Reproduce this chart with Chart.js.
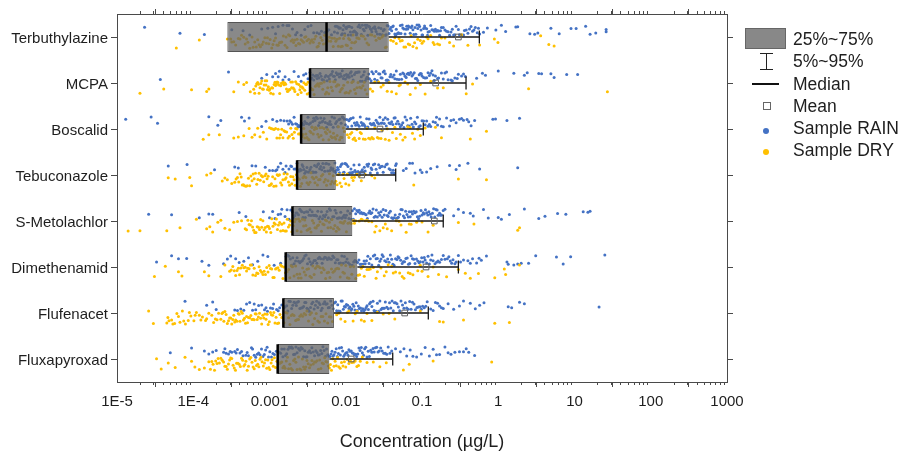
<!DOCTYPE html>
<html>
<head>
<meta charset="utf-8">
<script src="https://cdn.jsdelivr.net/npm/chart.js@4.4.1/dist/chart.umd.min.js"></script>
<style>
  html, body { margin: 0; padding: 0; background: #fff; }
  #wrap { position: relative; width: 902px; height: 453px; font-family: "Liberation Sans", Arial, sans-serif; color: #1e1e1e; }
  canvas { position: absolute; left: 0; top: 0; }
  .lg { position: absolute; }
  .lt { position: absolute; left: 793px; height: 22px; line-height: 22px; font-size: 17.5px; white-space: nowrap; }
</style>
</head>
<body>
<div id="wrap">
  <canvas id="c" width="902" height="453"></canvas>
  <div class="lg" style="left:745px;top:28px;width:39px;height:19px;background:#888;border:1px solid #666;"></div>
  <div class="lt" style="top:28px;">25%~75%</div>
  <div class="lg" style="left:766px;top:53px;width:1px;height:17px;background:#222;"></div>
  <div class="lg" style="left:760px;top:53px;width:13px;height:1px;background:#222;"></div>
  <div class="lg" style="left:760px;top:69px;width:13px;height:1px;background:#222;"></div>
  <div class="lt" style="top:50px;">5%~95%</div>
  <div class="lg" style="left:752px;top:83px;width:27px;height:2px;background:#111;"></div>
  <div class="lt" style="top:73px;">Median</div>
  <div class="lg" style="left:763px;top:102px;width:6px;height:6px;border:1px solid #666;background:#fff;"></div>
  <div class="lt" style="top:95px;">Mean</div>
  <div class="lg" style="left:763px;top:128px;width:6px;height:6px;border-radius:50%;background:#4472C4;"></div>
  <div class="lt" style="top:117px;">Sample RAIN</div>
  <div class="lg" style="left:763px;top:149px;width:6px;height:6px;border-radius:50%;background:#FFC000;"></div>
  <div class="lt" style="top:139px;">Sample DRY</div>
</div>
<script>
// ---------- data ----------
const categories = ['Terbuthylazine','MCPA','Boscalid','Tebuconazole','S-Metolachlor','Dimethenamid','Flufenacet','Fluxapyroxad'];
const q25    = [0.00028, 0.0034, 0.0026, 0.0023, 0.0020, 0.00163, 0.00152, 0.00128];
const median = [0.0056,  0.0034, 0.0026, 0.0023, 0.0020, 0.00163, 0.00152, 0.00128];
const q75    = [0.0366,  0.0204, 0.0100, 0.0074, 0.0122, 0.0142,  0.0070,  0.0061];
const p95    = [0.565,   0.378,  0.104,  0.0452, 0.19,   0.30,    0.121,   0.0413];
const mean   = [0.30,    0.151,  0.0281, 0.0162, 0.145,  0.113,   0.0593,  0.0118];
const tickValues = [1e-5, 1e-4, 1e-3, 1e-2, 1e-1, 1, 10, 100, 1000];
const tickLabels = ['1E-5','1E-4','0.001','0.01','0.1','1','10','100','1000'];

const rainTerb = [2.3e-5,6.7e-5,1.4e-4,3.2e-4,4.5e-4,7.9e-4,1.1e-3,1.3e-3,1.5e-3,1.8e-3,2.0e-3,2.3e-3,2.6e-3,3.2e-3,3.5e-3,4.2e-3,4.8e-3,5.3e-3,6.0e-3,7.1e-3,7.6e-3,8.0e-3,8.5e-3,9.0e-3,9.4e-3,0.0100,0.0105,0.011,0.0115,0.012,0.013,0.0135,0.014,0.015,0.016,0.017,0.018,0.019,0.020,0.021,0.022,0.024,0.025,0.026,0.028,0.030,0.031,0.033,0.035,0.036,0.038,0.040,0.042,0.045,0.047,0.050,0.053,0.056,0.060,0.063,0.066,0.070,0.074,0.078,0.083,0.088,0.093,0.10,0.105,0.11,0.12,0.125,0.13,0.14,0.15,0.16,0.17,0.18,0.19,0.21,0.22,0.24,0.26,0.28,0.30,0.33,0.36,0.40,0.44,0.48,0.53,0.57,0.64,0.72,0.93,1.1,1.25,1.7,1.8,2.6,3.0,3.3,4.9,6.3,9.0,10.5,14,16,19,26,26,
  7.3e-3,7.8e-3,8.2e-3,8.8e-3,9.2e-3,9.7e-3,0.0102,0.0108,0.0112,0.0118,0.0125,0.0128,0.0138,0.0145,0.0155,0.0165,0.0175,0.0185,0.0195,0.0205,0.0215,0.023,0.0245,0.027,0.029,0.032,0.034,0.037,0.039,0.041,0.044,0.046,0.049,0.052,0.055,0.058,0.062,0.065,0.068,0.072,0.076,0.081,0.086,0.091,0.097,0.102,0.108,0.115,0.118,0.135,0.145,0.155,0.165,0.175,0.2,0.23,0.25,0.27,0.31,0.35,0.38,0.42,0.46,0.5,0.55,5.5e-4,9.5e-4,1.2e-3,1.7e-3,2.2e-3,2.9e-3,3.8e-3,4.5e-3,5.7e-3,6.5e-3];
const dryTerb = [6.0e-5,1.2e-4,2.8e-4,3.1e-4,3.4e-4,3.9e-4,4.3e-4,4.8e-4,5.2e-4,5.9e-4,6.4e-4,7.0e-4,7.6e-4,8.3e-4,9.1e-4,9.8e-4,1.07e-3,1.15e-3,1.25e-3,1.35e-3,1.45e-3,1.6e-3,1.7e-3,1.85e-3,2.0e-3,2.15e-3,2.3e-3,2.5e-3,2.7e-3,2.9e-3,3.1e-3,3.4e-3,3.6e-3,3.9e-3,4.2e-3,4.5e-3,4.9e-3,5.3e-3,5.7e-3,6.1e-3,6.6e-3,7.1e-3,7.7e-3,8.3e-3,9.0e-3,9.7e-3,0.0105,0.0113,0.012,0.013,0.014,0.015,0.017,0.018,0.020,0.022,0.025,0.028,0.031,0.034,0.039,0.042,0.046,0.05,0.055,0.061,0.066,0.072,0.08,0.088,0.095,0.105,0.115,0.13,0.145,0.16,0.18,0.2,0.23,0.26,0.33,0.40,0.57,0.89,0.99,3.6,4.6,5.4,
  3.2e-4,3.6e-4,4.1e-4,4.6e-4,5.0e-4,5.5e-4,6.1e-4,6.7e-4,7.3e-4,8.0e-4,8.7e-4,9.4e-4,1.02e-3,1.11e-3,1.2e-3,1.3e-3,1.4e-3,1.52e-3,1.65e-3,1.78e-3,1.92e-3,2.07e-3,2.22e-3,2.4e-3,2.6e-3,2.8e-3,3.0e-3,3.25e-3,3.5e-3,3.75e-3,4.05e-3,4.35e-3,4.7e-3,5.1e-3,5.5e-3,5.9e-3,6.35e-3,6.85e-3,7.4e-3,8.0e-3,8.65e-3,9.35e-3,0.0101,0.0109,0.0117,0.0125,0.0135,0.0145,0.016,0.019,0.021,0.024,0.027,0.03,0.033,0.044,0.052,0.058,0.069,0.076,0.085,0.1,0.12,0.14,0.17];
const rainMCPA = [3.7e-5,2.9e-4,7.9e-4,9.2e-4,1.1e-3,1.2e-3,1.35e-3,1.5e-3,1.8e-3,2.1e-3,2.6e-3,3.0e-3,3.4e-3,3.6e-3,3.8e-3,4.1e-3,4.3e-3,4.6e-3,4.9e-3,5.2e-3,5.5e-3,5.9e-3,6.3e-3,6.7e-3,7.1e-3,7.5e-3,8.0e-3,8.5e-3,9.0e-3,9.6e-3,0.0102,0.0108,0.0115,0.012,0.013,0.014,0.015,0.016,0.017,0.018,0.019,0.020,0.0215,0.023,0.025,0.026,0.028,0.030,0.032,0.034,0.036,0.039,0.041,0.044,0.047,0.050,0.054,0.058,0.062,0.066,0.071,0.076,0.082,0.088,0.095,0.10,0.11,0.12,0.13,0.14,0.15,0.165,0.18,0.2,0.22,0.24,0.27,0.3,0.33,0.37,0.52,0.62,0.68,1.0,1.6,2.2,2.4,3.4,3.7,4.9,5.4,7.9,11,
  3.5e-3,3.7e-3,3.95e-3,4.2e-3,4.45e-3,4.75e-3,5.05e-3,5.35e-3,5.7e-3,6.1e-3,6.5e-3,6.9e-3,7.3e-3,7.75e-3,8.25e-3,8.75e-3,9.3e-3,9.9e-3,0.0105,0.0111,0.0118,0.0125,0.0135,0.0145,0.0155,0.0165,0.0175,0.0185,0.0195,0.0205,0.022,0.024,0.027,0.029,0.031,0.033,0.035,0.038,0.043,0.046,0.052,0.056,0.06,0.064,0.068,0.074,0.079,0.085,0.092,0.098,0.105,0.115,0.125,0.135,0.145,0.16,0.19,0.21,0.25,0.29,0.35,1.3e-3,1.6e-3,2.4e-3,2.8e-3,3.2e-3];
const dryMCPA = [2.0e-5,4.1e-5,9.5e-5,1.5e-4,1.6e-4,3.4e-4,3.9e-4,6.2e-4,6.6e-4,7.0e-4,7.3e-4,7.7e-4,8.1e-4,8.5e-4,9.0e-4,9.4e-4,9.9e-4,1.04e-3,1.1e-3,1.15e-3,1.2e-3,1.26e-3,1.32e-3,1.4e-3,1.47e-3,1.55e-3,1.63e-3,1.72e-3,1.8e-3,1.9e-3,2.0e-3,2.1e-3,2.2e-3,2.35e-3,2.5e-3,2.6e-3,2.75e-3,2.9e-3,3.05e-3,3.2e-3,3.5e-3,3.7e-3,4.0e-3,4.3e-3,4.6e-3,5.0e-3,5.4e-3,5.8e-3,6.2e-3,6.7e-3,7.2e-3,7.8e-3,8.4e-3,9.0e-3,9.8e-3,0.0106,0.0115,0.0125,0.0135,0.0145,0.016,0.0175,0.019,0.021,0.024,0.027,0.031,0.035,0.04,0.046,0.052,0.06,0.07,0.082,0.095,0.11,0.13,0.16,0.19,0.38,0.46,2.5,27,
  6.4e-4,6.8e-4,7.15e-4,7.5e-4,7.9e-4,8.3e-4,8.75e-4,9.2e-4,9.65e-4,1.01e-3,1.07e-3,1.12e-3,1.18e-3,1.23e-3,1.29e-3,1.36e-3,1.43e-3,1.51e-3,1.59e-3,1.67e-3,1.76e-3,1.85e-3,1.95e-3,2.05e-3,2.15e-3,2.28e-3,2.42e-3,2.55e-3,2.68e-3,2.82e-3,2.98e-3,3.12e-3,3.3e-3,3.6e-3,3.85e-3,4.15e-3,4.45e-3,4.8e-3,5.2e-3,5.6e-3,6.0e-3,6.45e-3,6.95e-3,7.5e-3,8.1e-3,8.7e-3,9.4e-3,0.0102,0.011,0.012,0.013,0.014,0.0152,0.0168,0.018,0.0225,0.029,0.037,0.05,0.065,5.0e-4,5.6e-4,4.6e-4];
const rainBosc = [1.3e-5,2.8e-5,3.4e-5,1.6e-4,2.1e-4,2.3e-4,4.3e-4,4.7e-4,5.4e-4,7.9e-4,9.0e-4,1.1e-3,1.25e-3,1.4e-3,1.55e-3,1.7e-3,1.85e-3,2.0e-3,2.2e-3,2.35e-3,2.5e-3,2.7e-3,2.9e-3,3.1e-3,3.3e-3,3.6e-3,3.8e-3,4.1e-3,4.4e-3,4.7e-3,5.0e-3,5.4e-3,5.8e-3,6.2e-3,6.6e-3,7.1e-3,7.6e-3,8.1e-3,8.7e-3,9.3e-3,0.0099,0.0106,0.0113,0.012,0.013,0.014,0.015,0.016,0.017,0.018,0.0195,0.021,0.0225,0.024,0.026,0.028,0.030,0.032,0.034,0.037,0.040,0.043,0.046,0.05,0.054,0.058,0.063,0.068,0.074,0.08,0.087,0.095,0.105,0.115,0.125,0.14,0.155,0.17,0.19,0.21,0.24,0.28,0.31,0.35,0.39,0.44,0.49,0.85,0.92,1.3,1.9,
  1.78e-3,1.92e-3,2.1e-3,2.28e-3,2.43e-3,2.6e-3,2.8e-3,3.0e-3,3.2e-3,3.45e-3,3.7e-3,3.95e-3,4.25e-3,4.55e-3,4.85e-3,5.2e-3,5.6e-3,6.0e-3,6.4e-3,6.85e-3,7.35e-3,7.85e-3,8.4e-3,9.0e-3,9.6e-3,0.0103,0.011,0.0117,0.0125,0.0135,0.0145,0.0155,0.0165,0.0175,0.0188,0.0202,0.0218,0.0232,0.025,0.027,0.029,0.031,0.033,0.0355,0.0385,0.0415,0.0445,0.048,0.052,0.056,0.06,0.065,0.071,0.077,0.083,0.091,0.1,0.11,0.12,0.13,0.15,0.16,0.18,0.23,0.26,0.33,0.41];
const dryBosc = [1.35e-4,1.6e-4,2.2e-4,3.4e-4,3.9e-4,4.6e-4,5.4e-4,6.4e-4,7.5e-4,8.3e-4,1.0e-3,1.1e-3,1.2e-3,1.3e-3,1.4e-3,1.5e-3,1.6e-3,1.75e-3,1.9e-3,2.05e-3,2.2e-3,2.4e-3,2.6e-3,2.75e-3,2.9e-3,3.1e-3,3.3e-3,3.5e-3,3.75e-3,4.0e-3,4.3e-3,4.6e-3,4.9e-3,5.2e-3,5.6e-3,6.0e-3,6.4e-3,6.9e-3,7.4e-3,8.0e-3,8.6e-3,9.3e-3,0.0105,0.0115,0.0125,0.0135,0.015,0.016,0.018,0.02,0.022,0.024,0.027,0.03,0.033,0.037,0.041,0.046,0.052,0.06,0.07,0.08,0.095,0.11,0.15,0.18,0.43,0.70,
  1.05e-3,1.15e-3,1.25e-3,1.35e-3,1.45e-3,1.55e-3,1.68e-3,1.82e-3,1.97e-3,2.12e-3,2.3e-3,2.5e-3,2.68e-3,2.82e-3,3.0e-3,3.2e-3,3.4e-3,3.62e-3,3.88e-3,4.15e-3,4.45e-3,4.75e-3,5.05e-3,5.4e-3,5.8e-3,6.2e-3,6.65e-3,7.15e-3,7.7e-3,8.3e-3,8.9e-3,9.6e-3,0.011,0.012,0.013,0.014,0.0155,0.017,0.019,0.021,0.023,0.026,0.029,0.035,0.044,0.056,0.065,0.075,0.088,9.2e-4,7.0e-4,5.9e-4];
const rainTebu = [4.7e-5,8.3e-5,1.9e-4,3.5e-4,3.9e-4,5.9e-4,6.6e-4,8.8e-4,1.0e-3,1.1e-3,1.2e-3,1.3e-3,1.4e-3,1.5e-3,1.65e-3,1.8e-3,1.95e-3,2.1e-3,2.3e-3,2.45e-3,2.6e-3,2.75e-3,2.9e-3,3.1e-3,3.3e-3,3.5e-3,3.7e-3,3.9e-3,4.15e-3,4.4e-3,4.7e-3,5.0e-3,5.3e-3,5.6e-3,6.0e-3,6.4e-3,6.8e-3,7.2e-3,7.6e-3,8.0e-3,8.5e-3,9.0e-3,9.5e-3,0.010,0.0107,0.0114,0.012,0.0128,0.0136,0.0145,0.0155,0.0165,0.0175,0.019,0.020,0.0215,0.023,0.025,0.027,0.029,0.031,0.034,0.037,0.040,0.043,0.046,0.057,0.069,0.081,0.095,0.115,0.158,0.23,0.28,0.31,0.40,0.57,1.8,
  2.2e-3,2.38e-3,2.52e-3,2.68e-3,2.82e-3,3.0e-3,3.2e-3,3.4e-3,3.6e-3,3.8e-3,4.05e-3,4.3e-3,4.55e-3,4.85e-3,5.15e-3,5.45e-3,5.8e-3,6.2e-3,6.6e-3,7.0e-3,7.4e-3,7.8e-3,8.25e-3,8.75e-3,9.25e-3,9.75e-3,0.0103,0.011,0.0117,0.0124,0.0132,0.014,0.015,0.016,0.017,0.018,0.0195,0.021,0.022,0.024,0.026,0.028,0.030,0.0325,0.035,0.0385,0.042,0.045,1.25e-3,1.6e-3,1.9e-3,0.062,0.075,0.1,0.13];
const dryTebu = [4.7e-5,5.8e-5,9.0e-5,9.5e-5,1.5e-4,1.7e-4,2.4e-4,2.8e-4,3.5e-4,3.8e-4,4.1e-4,4.4e-4,4.7e-4,5.1e-4,5.5e-4,5.9e-4,6.3e-4,6.8e-4,7.3e-4,7.8e-4,8.4e-4,9.0e-4,9.6e-4,1.03e-3,1.1e-3,1.18e-3,1.26e-3,1.35e-3,1.45e-3,1.55e-3,1.65e-3,1.77e-3,1.9e-3,2.03e-3,2.17e-3,2.35e-3,2.55e-3,2.75e-3,3.0e-3,3.25e-3,3.5e-3,3.8e-3,4.1e-3,4.4e-3,4.8e-3,5.2e-3,5.6e-3,6.1e-3,6.6e-3,7.1e-3,7.7e-3,8.4e-3,9.2e-3,0.010,0.011,0.0125,0.014,0.016,0.018,0.022,0.024,0.078,0.30,0.70,
  3.65e-4,3.95e-4,4.25e-4,4.55e-4,4.9e-4,5.3e-4,5.7e-4,6.1e-4,6.55e-4,7.05e-4,7.55e-4,8.1e-4,8.7e-4,9.3e-4,9.9e-4,1.06e-3,1.14e-3,1.22e-3,1.3e-3,1.4e-3,1.5e-3,1.6e-3,1.71e-3,1.83e-3,1.96e-3,2.1e-3,2.25e-3,2.45e-3,2.65e-3,2.85e-3,3.1e-3,3.4e-3,3.65e-3,3.95e-3,4.25e-3,4.6e-3,5.0e-3,5.4e-3,5.85e-3,6.35e-3,6.85e-3,7.4e-3,8.0e-3,8.8e-3,0.0095,0.0105,0.012,0.013,0.015,2.6e-4,3.2e-4];
const rainSMet = [2.6e-5,5.2e-5,1.2e-4,1.6e-4,1.8e-4,4.0e-4,4.9e-4,8.3e-4,1.0e-3,1.18e-3,1.3e-3,1.45e-3,1.6e-3,1.8e-3,2.0e-3,2.15e-3,2.3e-3,2.5e-3,2.65e-3,2.85e-3,3.05e-3,3.3e-3,3.5e-3,3.75e-3,4.0e-3,4.3e-3,4.6e-3,4.95e-3,5.3e-3,5.7e-3,6.1e-3,6.5e-3,7.0e-3,7.5e-3,8.0e-3,8.6e-3,9.2e-3,9.9e-3,0.0106,0.0114,0.0122,0.013,0.014,0.015,0.016,0.0172,0.0185,0.02,0.0213,0.0228,0.0245,0.026,0.028,0.03,0.032,0.035,0.037,0.04,0.043,0.046,0.049,0.053,0.057,0.061,0.066,0.07,0.075,0.081,0.087,0.093,0.1,0.107,0.115,0.123,0.132,0.142,0.152,0.163,0.175,0.19,0.2,0.35,0.43,0.47,0.64,0.74,1.0,1.1,1.4,2.2,3.4,4.1,6.0,7.7,13,15,16,
  2.07e-3,2.22e-3,2.4e-3,2.58e-3,2.75e-3,2.95e-3,3.18e-3,3.4e-3,3.62e-3,3.88e-3,4.15e-3,4.45e-3,4.8e-3,5.1e-3,5.5e-3,5.9e-3,6.3e-3,6.75e-3,7.25e-3,7.75e-3,8.3e-3,8.9e-3,9.55e-3,0.0102,0.011,0.0118,0.0126,0.0135,0.0145,0.0155,0.0166,0.0178,0.0192,0.0206,0.022,0.0236,0.0252,0.027,0.029,0.031,0.0335,0.036,0.0385,0.0415,0.0445,0.0475,0.051,0.055,0.059,0.0635,0.068,0.0725,0.078,0.084,0.09,0.097,0.104,0.111,0.119,0.128,0.137,0.147,0.158,0.17,0.18,1.4e-3,1.7e-3,1.9e-3,1.1e-3,0.26,0.3];
const drySMet = [1.4e-5,2.0e-5,4.5e-5,6.7e-5,1.1e-4,1.5e-4,1.65e-4,1.8e-4,2.1e-4,2.6e-4,3.0e-4,3.8e-4,4.8e-4,5.2e-4,5.6e-4,6.0e-4,6.4e-4,6.9e-4,7.4e-4,7.9e-4,8.5e-4,9.1e-4,9.7e-4,1.04e-3,1.11e-3,1.19e-3,1.27e-3,1.36e-3,1.45e-3,1.55e-3,1.66e-3,1.77e-3,1.89e-3,2.05e-3,2.2e-3,2.4e-3,2.6e-3,2.8e-3,3.0e-3,3.25e-3,3.5e-3,3.8e-3,4.1e-3,4.4e-3,4.8e-3,5.2e-3,5.6e-3,6.1e-3,6.6e-3,7.2e-3,7.8e-3,8.5e-3,9.3e-3,0.0102,0.0112,0.0125,0.0135,0.015,0.0165,0.018,0.02,0.022,0.025,0.028,0.031,0.035,0.04,0.046,0.053,0.062,0.072,0.085,0.1,0.12,0.14,0.30,0.48,1.8,1.9,
  5.0e-4,5.4e-4,5.8e-4,6.2e-4,6.65e-4,7.15e-4,7.65e-4,8.2e-4,8.8e-4,9.4e-4,1.0e-3,1.07e-3,1.15e-3,1.23e-3,1.31e-3,1.4e-3,1.5e-3,1.6e-3,1.71e-3,1.83e-3,1.97e-3,2.12e-3,2.3e-3,2.5e-3,2.7e-3,2.9e-3,3.12e-3,3.38e-3,3.65e-3,3.95e-3,4.25e-3,4.6e-3,5.0e-3,5.4e-3,5.85e-3,6.35e-3,6.9e-3,7.5e-3,8.15e-3,8.9e-3,9.7e-3,0.0107,0.0118,0.013,0.016,0.019,0.024,0.033,0.05,0.068,3.4e-4,4.3e-4,2.3e-4];
const rainDime = [3.3e-5,5.2e-5,6.4e-5,8.2e-5,1.3e-4,1.6e-4,2.5e-4,2.8e-4,3.1e-4,3.6e-4,4.0e-4,4.6e-4,5.3e-4,6.0e-4,7.0e-4,8.2e-4,9.5e-4,1.15e-3,1.4e-3,1.65e-3,1.8e-3,1.95e-3,2.1e-3,2.3e-3,2.5e-3,2.7e-3,2.9e-3,3.15e-3,3.4e-3,3.7e-3,4.0e-3,4.35e-3,4.7e-3,5.1e-3,5.5e-3,6.0e-3,6.5e-3,7.0e-3,7.6e-3,8.2e-3,8.9e-3,9.6e-3,0.0104,0.0113,0.0122,0.0132,0.0143,0.0155,0.0168,0.018,0.0195,0.021,0.023,0.025,0.027,0.029,0.031,0.034,0.037,0.04,0.043,0.047,0.05,0.055,0.059,0.064,0.069,0.075,0.081,0.088,0.095,0.103,0.11,0.12,0.13,0.14,0.155,0.17,0.18,0.2,0.215,0.235,0.255,0.28,0.35,0.4,0.46,0.52,0.6,0.7,1.3,1.35,1.6,1.8,2.0,2.5,3.1,5.8,7.1,8.9,25,
  1.72e-3,1.88e-3,2.02e-3,2.2e-3,2.4e-3,2.6e-3,2.8e-3,3.02e-3,3.28e-3,3.55e-3,3.85e-3,4.18e-3,4.52e-3,4.9e-3,5.3e-3,5.75e-3,6.25e-3,6.75e-3,7.3e-3,7.9e-3,8.55e-3,9.25e-3,0.01,0.0108,0.0117,0.0127,0.0137,0.0149,0.0161,0.0174,0.0187,0.0202,0.022,0.024,0.026,0.028,0.030,0.0325,0.0355,0.0385,0.0415,0.045,0.0485,0.0525,0.057,0.0615,0.0665,0.072,0.078,0.0845,0.0915,0.099,0.107,0.115,0.125,0.135,0.148,0.162,0.19,0.225,0.245,0.27,0.3,0.32,0.43,0.56];
const dryDime = [3.1e-5,4.3e-5,6.4e-5,7.1e-5,1.4e-4,1.6e-4,2.3e-4,2.6e-4,3.0e-4,3.3e-4,3.6e-4,3.9e-4,4.2e-4,4.6e-4,5.0e-4,5.4e-4,5.8e-4,6.3e-4,6.8e-4,7.3e-4,7.9e-4,8.5e-4,9.2e-4,9.9e-4,1.07e-3,1.15e-3,1.24e-3,1.34e-3,1.45e-3,1.55e-3,1.7e-3,1.85e-3,2.0e-3,2.2e-3,2.4e-3,2.6e-3,2.85e-3,3.1e-3,3.4e-3,3.7e-3,4.0e-3,4.4e-3,4.8e-3,5.2e-3,5.7e-3,6.2e-3,6.8e-3,7.4e-3,8.1e-3,8.8e-3,9.6e-3,0.0105,0.0115,0.0127,0.0145,0.016,0.0175,0.019,0.021,0.023,0.026,0.029,0.032,0.036,0.04,0.045,0.051,0.058,0.066,0.076,0.088,0.1,0.12,0.14,0.165,0.21,0.30,0.37,0.43,0.55,0.9,1.2,1.25,1.9,
  3.15e-4,3.45e-4,3.75e-4,4.05e-4,4.4e-4,4.8e-4,5.2e-4,5.6e-4,6.05e-4,6.55e-4,7.05e-4,7.6e-4,8.2e-4,8.85e-4,9.55e-4,1.03e-3,1.11e-3,1.2e-3,1.29e-3,1.4e-3,1.5e-3,1.62e-3,1.78e-3,1.92e-3,2.1e-3,2.3e-3,2.5e-3,2.72e-3,2.98e-3,3.25e-3,3.55e-3,3.85e-3,4.2e-3,4.6e-3,5.0e-3,5.45e-3,5.95e-3,6.5e-3,7.1e-3,7.75e-3,8.45e-3,9.2e-3,0.01,0.011,0.012,0.0135,0.0152,0.0168,0.02,0.025,0.034,0.042,0.055,0.07,0.095];
const rainFluf = [7.8e-5,1.5e-4,1.8e-4,2.0e-4,3.5e-4,3.8e-4,4.2e-4,4.6e-4,5.0e-4,5.5e-4,6.0e-4,6.6e-4,7.2e-4,7.9e-4,8.6e-4,9.4e-4,1.03e-3,1.13e-3,1.24e-3,1.36e-3,1.55e-3,1.68e-3,1.8e-3,1.95e-3,2.1e-3,2.25e-3,2.4e-3,2.6e-3,2.8e-3,3.0e-3,3.2e-3,3.45e-3,3.7e-3,4.0e-3,4.3e-3,4.6e-3,4.9e-3,5.3e-3,5.7e-3,6.1e-3,6.6e-3,7.1e-3,7.6e-3,8.1e-3,8.7e-3,9.3e-3,0.0099,0.0106,0.0113,0.012,0.0128,0.0137,0.0146,0.0156,0.0167,0.018,0.019,0.0205,0.022,0.0235,0.025,0.027,0.029,0.031,0.033,0.036,0.039,0.042,0.045,0.049,0.053,0.058,0.063,0.069,0.075,0.082,0.09,0.098,0.107,0.117,0.13,0.15,0.17,0.19,0.22,0.26,0.31,0.35,0.43,0.5,0.57,0.65,1.35,1.5,1.9,2.2,21,
  1.6e-3,1.74e-3,1.88e-3,2.02e-3,2.18e-3,2.32e-3,2.5e-3,2.7e-3,2.9e-3,3.1e-3,3.32e-3,3.58e-3,3.85e-3,4.15e-3,4.45e-3,4.75e-3,5.1e-3,5.5e-3,5.9e-3,6.35e-3,6.85e-3,7.35e-3,7.85e-3,8.4e-3,9.0e-3,9.6e-3,0.0102,0.011,0.0117,0.0124,0.0132,0.0141,0.0151,0.0161,0.0173,0.0185,0.0198,0.0212,0.0228,0.0243,0.026,0.028,0.030,0.032,0.0345,0.0375,0.0405,0.0435,0.047,0.051,0.0555,0.0605,0.066,0.072,0.0785,0.086,0.094,0.102,0.112,0.14,0.16,0.18,1.3e-3,1.45e-3,1.1e-3,9.0e-4,6.3e-4];
const dryFluf = [2.6e-5,3.0e-5,4.5e-5,4.8e-5,5.2e-5,5.7e-5,6.1e-5,6.7e-5,7.2e-5,7.9e-5,8.6e-5,9.3e-5,1.02e-4,1.1e-4,1.2e-4,1.32e-4,1.45e-4,1.6e-4,1.75e-4,1.95e-4,2.15e-4,2.3e-4,2.45e-4,2.6e-4,2.8e-4,3.0e-4,3.2e-4,3.4e-4,3.6e-4,3.9e-4,4.1e-4,4.4e-4,4.7e-4,5.0e-4,5.3e-4,5.7e-4,6.1e-4,6.5e-4,6.9e-4,7.4e-4,7.9e-4,8.4e-4,9.0e-4,9.6e-4,1.03e-3,1.1e-3,1.18e-3,1.27e-3,1.37e-3,1.55e-3,1.7e-3,1.85e-3,2.0e-3,2.2e-3,2.4e-3,2.6e-3,2.85e-3,3.1e-3,3.4e-3,3.7e-3,4.1e-3,4.5e-3,5.0e-3,5.5e-3,6.1e-3,6.7e-3,7.6e-3,8.6e-3,9.8e-3,0.011,0.0125,0.014,0.016,0.019,0.022,0.026,0.031,0.037,0.044,0.095,0.17,0.19,0.35,0.9,1.4,
  4.65e-5,5.4e-5,6.4e-5,7.5e-5,8.9e-5,1.06e-4,1.26e-4,1.5e-4,1.85e-4,2.05e-4,2.38e-4,2.52e-4,2.7e-4,2.9e-4,3.1e-4,3.3e-4,3.5e-4,3.75e-4,4.0e-4,4.25e-4,4.55e-4,4.85e-4,5.15e-4,5.5e-4,5.9e-4,6.3e-4,6.7e-4,7.15e-4,7.65e-4,8.15e-4,8.7e-4,9.3e-4,9.95e-4,1.06e-3,1.14e-3,1.22e-3,1.32e-3,1.45e-3,1.62e-3,1.78e-3,1.93e-3,2.1e-3,2.3e-3,2.5e-3,2.72e-3,2.98e-3,3.25e-3,3.55e-3,3.9e-3,4.3e-3,4.75e-3,5.25e-3,5.8e-3,6.4e-3,8.1e-3,0.0105,0.0133,0.0175];
const rainFlux = [5.0e-5,9.5e-5,1.4e-4,1.6e-4,1.8e-4,2.0e-4,2.5e-4,2.7e-4,2.9e-4,3.2e-4,3.5e-4,3.8e-4,4.1e-4,4.5e-4,4.9e-4,5.3e-4,5.8e-4,6.3e-4,6.9e-4,7.5e-4,8.2e-4,8.9e-4,9.7e-4,1.06e-3,1.16e-3,1.3e-3,1.4e-3,1.5e-3,1.62e-3,1.75e-3,1.88e-3,2.0e-3,2.15e-3,2.3e-3,2.5e-3,2.7e-3,2.9e-3,3.1e-3,3.35e-3,3.6e-3,3.9e-3,4.2e-3,4.5e-3,4.85e-3,5.2e-3,5.6e-3,6.2e-3,6.6e-3,7.0e-3,7.5e-3,8.0e-3,8.5e-3,9.1e-3,9.7e-3,0.0104,0.011,0.0118,0.0126,0.0135,0.0144,0.0154,0.0165,0.0177,0.019,0.0204,0.022,0.0236,0.0255,0.0275,0.03,0.033,0.036,0.04,0.052,0.063,0.076,0.098,0.11,0.14,0.17,0.2,0.27,0.31,0.35,0.38,0.41,0.49,
  2.6e-4,3.05e-4,3.65e-4,4.3e-4,5.1e-4,6.0e-4,6.6e-4,7.2e-4,7.85e-4,8.55e-4,9.3e-4,1.01e-3,1.11e-3,1.23e-3,1.35e-3,1.45e-3,1.56e-3,1.68e-3,1.81e-3,1.94e-3,2.07e-3,2.22e-3,2.4e-3,2.6e-3,2.8e-3,3.0e-3,3.22e-3,3.48e-3,3.75e-3,4.05e-3,4.35e-3,4.68e-3,5.02e-3,5.4e-3,5.8e-3,6.0e-3,6.4e-3,6.8e-3,7.25e-3,7.75e-3,8.25e-3,8.8e-3,9.4e-3,0.01,0.0107,0.0114,0.0122,0.013,0.0139,0.0149,0.016,0.0171,0.0183,0.0197,0.0212,0.0228,0.0245,0.0265,0.0287,0.0315,0.0345,0.038,0.045,0.058,0.07,0.085,0.125,0.155,0.22,0.24];
const dryFlux = [3.3e-5,3.8e-5,4.7e-5,5.8e-5,7.8e-5,9.5e-5,1.2e-4,1.6e-4,1.75e-4,1.9e-4,2.05e-4,2.2e-4,2.4e-4,2.6e-4,2.8e-4,3.0e-4,3.2e-4,3.45e-4,3.7e-4,4.0e-4,4.3e-4,4.6e-4,4.9e-4,5.3e-4,5.7e-4,6.1e-4,6.5e-4,7.0e-4,7.5e-4,8.0e-4,8.6e-4,9.2e-4,9.8e-4,1.05e-3,1.12e-3,1.2e-3,1.3e-3,1.4e-3,1.5e-3,1.6e-3,1.72e-3,1.85e-3,2.0e-3,2.15e-3,2.3e-3,2.5e-3,2.7e-3,2.9e-3,3.1e-3,3.35e-3,3.6e-3,3.9e-3,4.2e-3,4.55e-3,4.9e-3,5.3e-3,5.7e-3,6.1e-3,6.5e-3,7.0e-3,7.5e-3,8.1e-3,8.8e-3,9.6e-3,0.0105,0.0115,0.0127,0.014,0.0155,0.019,0.028,0.057,0.068,0.14,0.82,
  1.68e-4,1.82e-4,1.97e-4,2.12e-4,2.3e-4,2.5e-4,2.7e-4,2.9e-4,3.1e-4,3.33e-4,3.58e-4,3.85e-4,4.15e-4,4.45e-4,4.75e-4,5.1e-4,5.5e-4,5.9e-4,6.3e-4,6.75e-4,7.25e-4,7.75e-4,8.3e-4,8.9e-4,9.5e-4,1.01e-3,1.08e-3,1.16e-3,1.25e-3,1.35e-3,1.45e-3,1.55e-3,1.66e-3,1.78e-3,1.92e-3,2.07e-3,2.22e-3,2.4e-3,2.6e-3,2.8e-3,3.0e-3,3.22e-3,3.48e-3,3.75e-3,4.05e-3,4.38e-3,4.72e-3,5.1e-3,5.5e-3,5.9e-3,6.3e-3,6.75e-3,7.25e-3,7.8e-3,8.45e-3,9.2e-3,0.01,0.011,0.012,0.0133,0.0147,0.0165,0.023,0.034,1.4e-4,1.05e-4];

const rainSeries = [rainTerb, rainMCPA, rainBosc, rainTebu, rainSMet, rainDime, rainFluf, rainFlux];
const drySeries  = [dryTerb, dryMCPA, dryBosc, dryTebu, drySMet, dryDime, dryFluf, dryFlux];

// ---------- styling / layout ----------
const axisColor = '#4a4a4a';
const textColor = '#1e1e1e';
const fontFam = '"Liberation Sans", Arial, sans-serif';
const RAIN_BAND = [-0.265, -0.035];   // vertical spread of the jittered points (category units)
const DRY_BAND  = [-0.05, 0.25];

// deterministic jitter (vertical placement only; values come from the arrays)
function jitterFrac(k, ci, phase) {
  const s = Math.sin(k * 12.9898 + ci * 78.233 + phase * 37.719) * 43758.5453;
  return s - Math.floor(s);
}
function jittered(series, band, phase) {
  const pts = [];
  series.forEach((vals, ci) => {
    vals.forEach((v, k) => {
      const f = jitterFrac(k, ci, phase);
      pts.push({ x: v, y: ci + band[0] + (band[1] - band[0]) * f });
    });
  });
  return pts;
}
function segments(pairsFn) {
  const out = [];
  categories.forEach((_, i) => { pairsFn(i).forEach(p => out.push(p)); out.push({ x: null, y: null }); });
  return out;
}

const MED_H = 0.32, CAP_H = 0.14;

const minorTicks = {
  id: 'minorTicks',
  afterDraw(chart) {
    const ctx = chart.ctx, xs = chart.scales.x, a = chart.chartArea;
    ctx.save();
    ctx.strokeStyle = axisColor; ctx.lineWidth = 1;
    ctx.beginPath();
    for (let e = -5; e < 3; e++) {
      for (let m = 2; m <= 9; m++) {
        const px = Math.round(xs.getPixelForValue(m * Math.pow(10, e))) + 0.5;
        ctx.moveTo(px, a.bottom); ctx.lineTo(px, a.bottom + 3);
        ctx.moveTo(px, a.top); ctx.lineTo(px, a.top - 3);
      }
    }
    ctx.stroke();
    ctx.restore();
  }
};

const logAxisBase = {
  type: 'logarithmic', min: 1e-5, max: 1000,
  afterBuildTicks: s => { s.ticks = tickValues.map(v => ({ value: v })); },
  grid: { drawOnChartArea: false, drawTicks: true, tickLength: 5, color: axisColor },
  border: { display: true, color: axisColor, width: 1 }
};

new Chart(document.getElementById('c'), {
  type: 'bar',
  data: {
    labels: categories,
    datasets: [
      {
        type: 'scatter', label: 'Mean', order: 0,
        xAxisID: 'x', yAxisID: 'yj',
        data: mean.map((v, i) => ({ x: v, y: i })),
        pointStyle: 'rect', pointRadius: 4, pointBorderWidth: 1,
        pointBorderColor: '#606060', pointBackgroundColor: 'rgba(255,255,255,0)'
      },
      {
        type: 'scatter', label: 'Median', order: 1, showLine: true, spanGaps: false,
        xAxisID: 'x', yAxisID: 'yj',
        data: segments(i => [{ x: median[i], y: i - MED_H }, { x: median[i], y: i + MED_H }]),
        borderColor: '#000', borderWidth: 2.5, pointRadius: 0
      },
      {
        type: 'scatter', label: 'Whisker', order: 2, showLine: true, spanGaps: false,
        xAxisID: 'x', yAxisID: 'yj',
        data: segments(i => [{ x: q75[i], y: i }, { x: p95[i], y: i }]),
        borderColor: '#1a1a1a', borderWidth: 1.3, pointRadius: 0
      },
      {
        type: 'scatter', label: 'Cap', order: 2, showLine: true, spanGaps: false,
        xAxisID: 'x', yAxisID: 'yj',
        data: segments(i => [{ x: p95[i], y: i - CAP_H }, { x: p95[i], y: i + CAP_H }]),
        borderColor: '#1a1a1a', borderWidth: 1.3, pointRadius: 0
      },
      {
        type: 'bar', label: '25%~75%', order: 3, indexAxis: 'y',
        xAxisID: 'x', yAxisID: 'y',
        data: q25.map((v, i) => [v, q75[i]]),
        backgroundColor: 'rgba(100,100,100,0.76)', borderColor: '#555', borderWidth: 1,
        borderSkipped: false, barPercentage: 0.65, categoryPercentage: 1
      },
      {
        type: 'scatter', label: 'Sample RAIN', order: 5,
        xAxisID: 'x', yAxisID: 'yj',
        data: jittered(rainSeries, RAIN_BAND, 0.11),
        pointRadius: 1.5, pointBorderWidth: 0, pointBackgroundColor: '#4472C4'
      },
      {
        type: 'scatter', label: 'Sample DRY', order: 4,
        xAxisID: 'x', yAxisID: 'yj',
        data: jittered(drySeries, DRY_BAND, 0.47),
        pointRadius: 1.5, pointBorderWidth: 0, pointBackgroundColor: '#FFC000'
      }
    ]
  },
  options: {
    responsive: false,
    animation: false,
    devicePixelRatio: 1,
    layout: { padding: { left: 7, right: 169, top: 9, bottom: 0 } },
    plugins: { legend: { display: false }, tooltip: { enabled: false } },
    scales: {
      x: Object.assign({}, logAxisBase, {
        position: 'bottom',
        afterFit: s => { s.height = 71; },
        ticks: {
          autoSkip: false, maxRotation: 0, padding: 6, color: textColor,
          font: { family: fontFam, size: 15 },
          callback: (v, idx) => tickLabels[idx]
        },
        title: {
          display: true, text: 'Concentration (µg/L)', color: textColor,
          font: { family: fontFam, size: 18 }, padding: { top: 0, bottom: 0 }
        }
      }),
      x2: Object.assign({}, logAxisBase, {
        position: 'top',
        ticks: { display: false }
      }),
      y: {
        type: 'category', position: 'left', offset: true,
        afterFit: s => { s.width = 110; },
        grid: { offset: false, drawOnChartArea: false, drawTicks: true, tickLength: 6, color: axisColor },
        border: { display: true, color: axisColor, width: 1 },
        ticks: { padding: 3, labelOffset: 1.5, color: textColor, font: { family: fontFam, size: 15 } }
      },
      y2: {
        type: 'category', position: 'right', offset: true, labels: categories,
        grid: { offset: false, drawOnChartArea: false, drawTicks: true, tickLength: 6, color: axisColor },
        border: { display: true, color: axisColor, width: 1 },
        ticks: { display: false }
      },
      yj: {
        type: 'linear', display: false, min: -0.5, max: 7.5, reverse: true
      }
    }
  },
  plugins: [minorTicks]
});
</script>
</body>
</html>
